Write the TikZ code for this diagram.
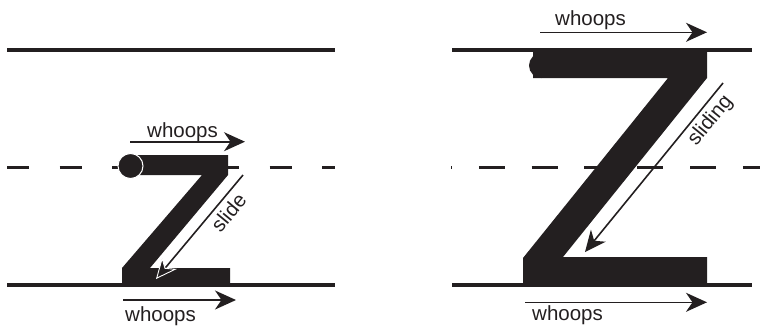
\documentclass[tikz,border=0pt]{standalone}
\usepackage{fontspec}
\setmainfont{Liberation Sans}
\usetikzlibrary{arrows.meta}
\definecolor{ink}{RGB}{35,31,32}
\begin{document}
\begin{tikzpicture}[x=1pt,y=-1pt,
  rule/.style={ink, line width=3.8pt},
  midrule/.style={ink, line width=2.2pt},
  letter/.style={fill=ink, draw=none},
  motion/.style={ink, line width=1.6pt, -{Stealth[length=21pt,width=19pt,inset=6.5pt]}},
  motionw/.style={ink, line width=1.6pt, -{Stealth[length=21pt,width=19pt,inset=6.5pt,color=white,fill=ink,line width=0.9pt]}},
  lbl/.style={font=\fontsize{20.5}{24}\selectfont, text=ink, inner sep=0pt, anchor=base west},
  slbl/.style={font=\fontsize{20.5}{24}\selectfont, text=ink, inner sep=0pt, anchor=center},
]
\useasboundingbox (0,0) rectangle (760,333);

% ---------- left panel guide lines ----------
\coordinate (LtopA) at (7,50);    \coordinate (LtopB) at (335,50);
\coordinate (LmidA) at (7,167.5); \coordinate (LmidB) at (335,167.5);
\coordinate (LbotA) at (7,285);   \coordinate (LbotB) at (335,285);
\draw[rule] (LtopA) -- (LtopB);
\draw[midrule, dash pattern=on 22pt off 30.5pt] (LmidA) -- (LmidB);
\draw[rule] (LbotA) -- (LbotB);

% ---------- right panel guide lines ----------
\coordinate (RtopA) at (452,50);    \coordinate (RtopB) at (752,50);
\coordinate (RmidA) at (451,167.5); \coordinate (RmidB) at (760,167.5);
\coordinate (RbotA) at (452,285);   \coordinate (RbotB) at (752,285);
\draw[rule] (RtopA) -- (RtopB);
\draw[midrule, dash pattern=on 26pt off 26.8pt, dash phase=25pt] (RmidA) -- (RmidB);
\draw[rule] (RbotA) -- (RbotB);

% ---------- small z ----------
\fill[letter] (130,155) -- (228,155) -- (228,175) -- (150,268) -- (230,268) -- (230,285)
  -- (122,285) -- (122,268) -- (202,175) -- (130,175) -- cycle;
\draw[fill=ink, draw=white, line width=1pt] (130.5,166) circle (12.5pt);

% ---------- big Z ----------
\fill[letter] (533,48) -- (707,48) -- (707,78) -- (563,257) -- (707,257) -- (707,286)
  -- (523,286) -- (523,258) -- (668,78) -- (533,78) -- cycle;
\fill[ink] (541.5,65.5) circle (12.5pt);

% ---------- left arrows ----------
\coordinate (a1s) at (130,141.7); \coordinate (a1e) at (245,141.7);
\draw[motion] (a1s) -- (a1e);
\node[lbl] (w1) at (147,137) {whoops};

\coordinate (a2s) at (123,300); \coordinate (a2e) at (236,300);
\draw[motion] (a2s) -- (a2e);
\node[lbl] (w2) at (125,321.5) {whoops};

\coordinate (a3s) at (243,175); \coordinate (a3e) at (156,279);
\draw[motionw] (a3s) -- (a3e);
\node[slbl, rotate=50.4] (s1) at (228.5,212.5) {slide};

% ---------- right arrows ----------
\coordinate (b1s) at (540,32.3); \coordinate (b1e) at (707,32.3);
\draw[motion] (b1s) -- (b1e);
\node[lbl] (w3) at (555,25) {whoops};

\coordinate (b2s) at (525,302.3); \coordinate (b2e) at (707,302.3);
\draw[motion] (b2s) -- (b2e);
\node[lbl] (w4) at (532,320) {whoops};

\coordinate (b3s) at (723,83); \coordinate (b3e) at (585,252);
\draw[motion] (b3s) -- (b3e);
\node[slbl, rotate=50.8] (s2) at (710.5,121) {sliding};
\end{tikzpicture}
\end{document}
